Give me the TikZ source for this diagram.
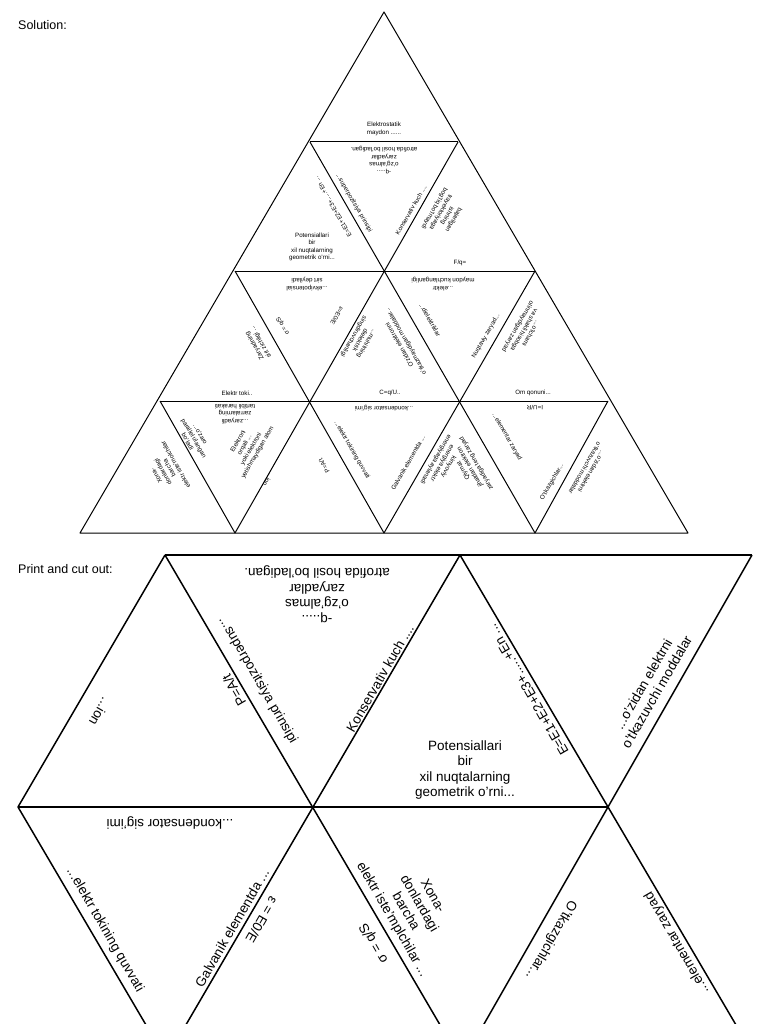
\documentclass[tikz,border=0pt]{standalone}
\usepackage{fontspec}
\setmainfont{Liberation Sans}
\begin{document}
\begin{tikzpicture}[x=1pt,y=-1pt,
  sm/.style={font=\fontsize{6.2}{7.4}\selectfont,align=center,inner sep=0pt},
  bg/.style={font=\fontsize{13.5}{15.5}\selectfont,align=center,inner sep=0pt},
  hd/.style={font=\fontsize{12.5}{14}\selectfont,anchor=west,inner sep=0pt},
  cut/.style={line width=1.5pt,line join=round},
  sol/.style={line width=1pt,line join=round}]
\useasboundingbox (0,0) rectangle (768,1024);
\clip (0,0) rectangle (768,1024);
\fill[white] (0,0) rectangle (768,1024);
\node[hd] (h1) at (18,25) {Solution:};
\node[hd] (h2) at (18,569) {Print and cut out:};
% solution triangle
\draw[sol] (384,12) -- (80,533) -- (688,533) -- cycle;
\draw[sol] (310,142) -- (458,142) (235,271) -- (535,271) (160,401) -- (608,401);
\draw[sol] (310,142) -- (535,533) (235,271) -- (384,533) (160,401) -- (235,533);
\draw[sol] (458,142) -- (235,533) (535,271) -- (384,533) (608,401) -- (535,533);
% row 1-2 texts
\node[sm] (s1) at (384,129) {Elektrostatik\\maydon ......};
\node[sm,rotate=180] (s2) at (384,160) {-q.....\\o'zg'almas\\zaryadlar\\atrofida hosil bo'ladigan.};
\node[sm,rotate=-60] (s3) at (354,203) {...superpozitsiya prinsipi};
\node[sm,rotate=120] (s4) at (333,207) {E=E1+E2+E3+.....+En ...};
\node[sm,rotate=60] (s5) at (411,210) {Konservativ kuch ....};
\node[sm,rotate=240] (s6) at (444,214) {bajarilgan\\ishning\\trayektoriyaga\\bog'liq bo'lmaydi};
\node[sm] (s7) at (312,247) {Potensiallari\\bir\\xil nuqtalarning\\geometrik o'rni...};
\node[sm] (s8) at (460,263) {F/q=};
% row 3
\node[sm,rotate=180] (s9) at (307,284) {...ekvipotensial\\sirt deyiladi};
\node[sm,rotate=180] (s10) at (443,284) {...elektr\\maydon kuchlanganligi};
\node[sm,rotate=120] (s11) at (283,326) {σ = q/S};
\node[sm,rotate=120] (s12) at (258,344) {Zaryadning\\sirt zichligi ...};
\node[sm,rotate=240] (s13) at (360,340) {...muhitning\\dielektrik\\singdiruvchanligi};
\node[sm,rotate=240] (s14) at (337,316) {ε=E0/E};
\node[sm,rotate=-60] (s15) at (430,320) {...dielektriklar};
\node[sm,rotate=120] (s16) at (403,343) {O'zidan elektronni\\o'tkazmaydigan moddalar...};
\node[sm,rotate=60] (s17) at (486,336) {Nuqtaviy zaryad...};
\node[sm,rotate=240] (s18) at (524,330) {...o'lchami\\va shakli hisobga\\olinmaydigan zaryad};
\node[sm] (s19) at (237,393) {Elektr toki..};
\node[sm] (s20) at (390,393) {C=q/U..};
\node[sm] (s21) at (533,393) {Om qonuni...};
% row 4
\node[sm,rotate=180] (s22) at (235,414) {...zaryadli\\zarralarning\\tartibli harakati};
\node[sm,rotate=120] (s23) at (166,470) {Xona-\\donlardagi\\barcha\\elektr iste'molchilar};
\node[sm,rotate=-60] (s24) at (194,438) {...o'zaro\\parallel ulangan\\bo'ladi};
\node[sm,rotate=60] (s25) at (248,447) {Elektroni\\orqali ...\\yoki elektroni\\yetishmaydigan atom};
\node[sm,rotate=240] (s26) at (268,480) {...ion};
\node[sm,rotate=180] (s27) at (384,408) {...kondensator sig'imi};
\node[sm,rotate=-60] (s28) at (352,450) {...elektr tokining quvvati};
\node[sm,rotate=120] (s29) at (324,466) {P=A/t};
\node[sm,rotate=60] (s30) at (408,463) {Galvanik elementda ...};
\node[sm,rotate=240] (s31) at (442,463) {kimyoviy\\energiya elektr\\energiyaga aylanadi};
\node[sm,rotate=180] (s32) at (535,408) {I=U/R};
\node[sm,rotate=-60] (s33) at (507,437) {...elementar zaryad};
\node[sm,rotate=120] (s34) at (470,467) {Qiymat\\jihatdan elektron\\zaryadiga teng zaryad};
\node[sm,rotate=60] (s35) at (552,482) {O'tkazgichlar...};
\node[sm,rotate=240] (s36) at (588,470) {...o'zidan elektrni\\o'tkazuvchi moddalar};
% print and cut out
\draw[cut] (165,555) -- (752,555) (18,807) -- (608,807);
\draw[cut] (165,555) -- (18,807) -- (166,1059);
\draw[cut] (165,555) -- (460,1059);
\draw[cut] (460,555) -- (166,1059);
\draw[cut] (460,555) -- (756,1059);
\draw[cut] (752,555) -- (464,1059);
\node[bg,rotate=-120] (b1) at (100,712) {...ion};
\node[bg,rotate=120] (b2) at (234,690) {P=A/t};
\node[bg,rotate=-60] (b3) at (258,680) {...superpozitsiya prinsipi};
\node[bg,rotate=60] (b4) at (380,678) {Konservativ kuch ....};
\node[bg,rotate=180] (b5) at (317,594) {-q.....\\o'zg'almas\\zaryadlar\\atrofida hosil bo'ladigan.};
\node[bg] (b6) at (465,770) {Potensiallari\\bir\\xil nuqtalarning\\geometrik o'rni...};
\node[bg,rotate=120] (b7) at (528,690) {E=E1+E2+E3+.....+En ...};
\node[bg,rotate=60] (b8) at (650,688) {...o'zidan elektrni\\o'tkazuvchi moddalar};
\node[bg,rotate=180] (b9) at (170,823) {...kondensator sig'imi};
\node[bg,rotate=-60] (b10) at (105,930) {...elektr tokining quvvati};
\node[bg,rotate=60] (b11) at (232,928) {Galvanik elementda ...};
\node[bg,rotate=240] (b12) at (262,920) {ε = E0/E};
\node[bg,rotate=-60] (b13) at (412,908) {Xona-\\donlardagi\\barcha\\elektr iste'mplchilar ...};
\node[bg,rotate=120] (b14) at (374,943) {σ = q/S};
\node[bg,rotate=-120] (b15) at (551,940) {O'tkazgichlar...};
\node[bg,rotate=120] (b16) at (677,943) {...elementar zaryad};
\end{tikzpicture}
\end{document}
